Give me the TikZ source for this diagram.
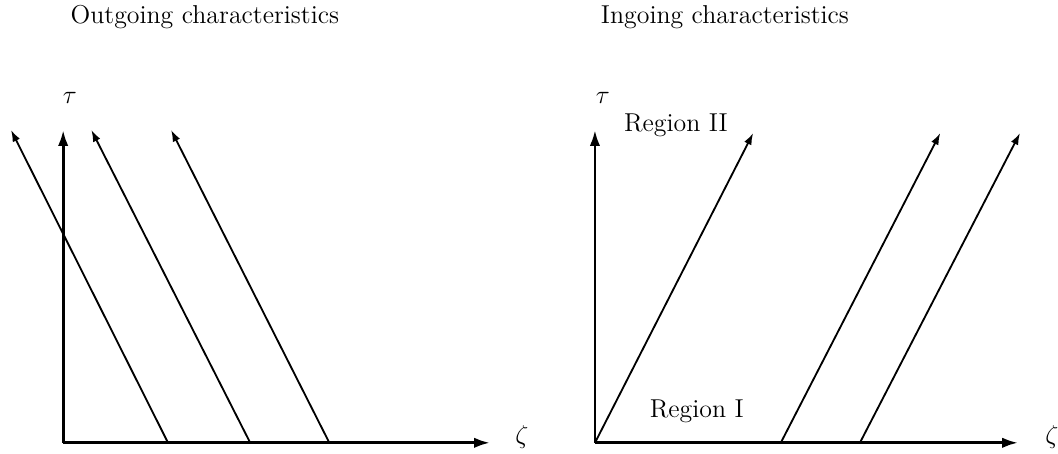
\documentclass[tikz,border=0pt]{standalone}
\usetikzlibrary{arrows.meta}
\begin{document}
\begin{tikzpicture}[
  font=\large,
  axis/.style={-{Latex[length=2.6mm,width=1.7mm]}, line width=1.3pt},
  chr/.style={-{Latex[length=1.9mm,width=1.3mm]}, line width=0.85pt}
]
\useasboundingbox (-1.03,-0.18) rectangle (16.22,7.22);
\node (t1) at (2.31,6.94) {Outgoing characteristics};
\node (t2) at (10.79,6.94) {Ingoing characteristics};
% left panel
\coordinate (o1) at (0,0);
\coordinate (x1) at (6.96,0);
\coordinate (y1) at (0,5.10);
\draw[axis] (o1) -- (x1);
\draw[axis] (o1) -- (y1);
\node (tau1) at (0.11,5.62) {$\tau$};
\node (zeta1) at (7.48,0.1) {$\zeta$};
\coordinate (a1) at (1.71,0);  \coordinate (b1) at (-0.85,5.10);
\coordinate (a2) at (3.05,0);  \coordinate (b2) at (0.46,5.10);
\coordinate (a3) at (4.34,0);  \coordinate (b3) at (1.76,5.10);
\draw[chr] (a1) -- (b1);
\draw[chr] (a2) -- (b2);
\draw[chr] (a3) -- (b3);
% right panel
\coordinate (o2) at (8.67,0);
\coordinate (x2) at (15.57,0);
\coordinate (y2) at (8.67,5.10);
\draw[axis] (o2) -- (x2);
\draw[axis] (o2) -- (y2);
\node (tau2) at (8.80,5.62) {$\tau$};
\node (zeta2) at (16.12,0.1) {$\zeta$};
\node (r2) at (9.99,5.18) {Region II};
\node (r1) at (10.33,0.51) {Region I};
\coordinate (c1) at (11.70,0); \coordinate (d1) at (14.30,5.05);
\coordinate (c2) at (12.99,0); \coordinate (d2) at (15.60,5.05);
\coordinate (d0) at (11.25,5.05);
\draw[chr] (o2) -- (d0);
\draw[chr] (c1) -- (d1);
\draw[chr] (c2) -- (d2);
\end{tikzpicture}
\end{document}
